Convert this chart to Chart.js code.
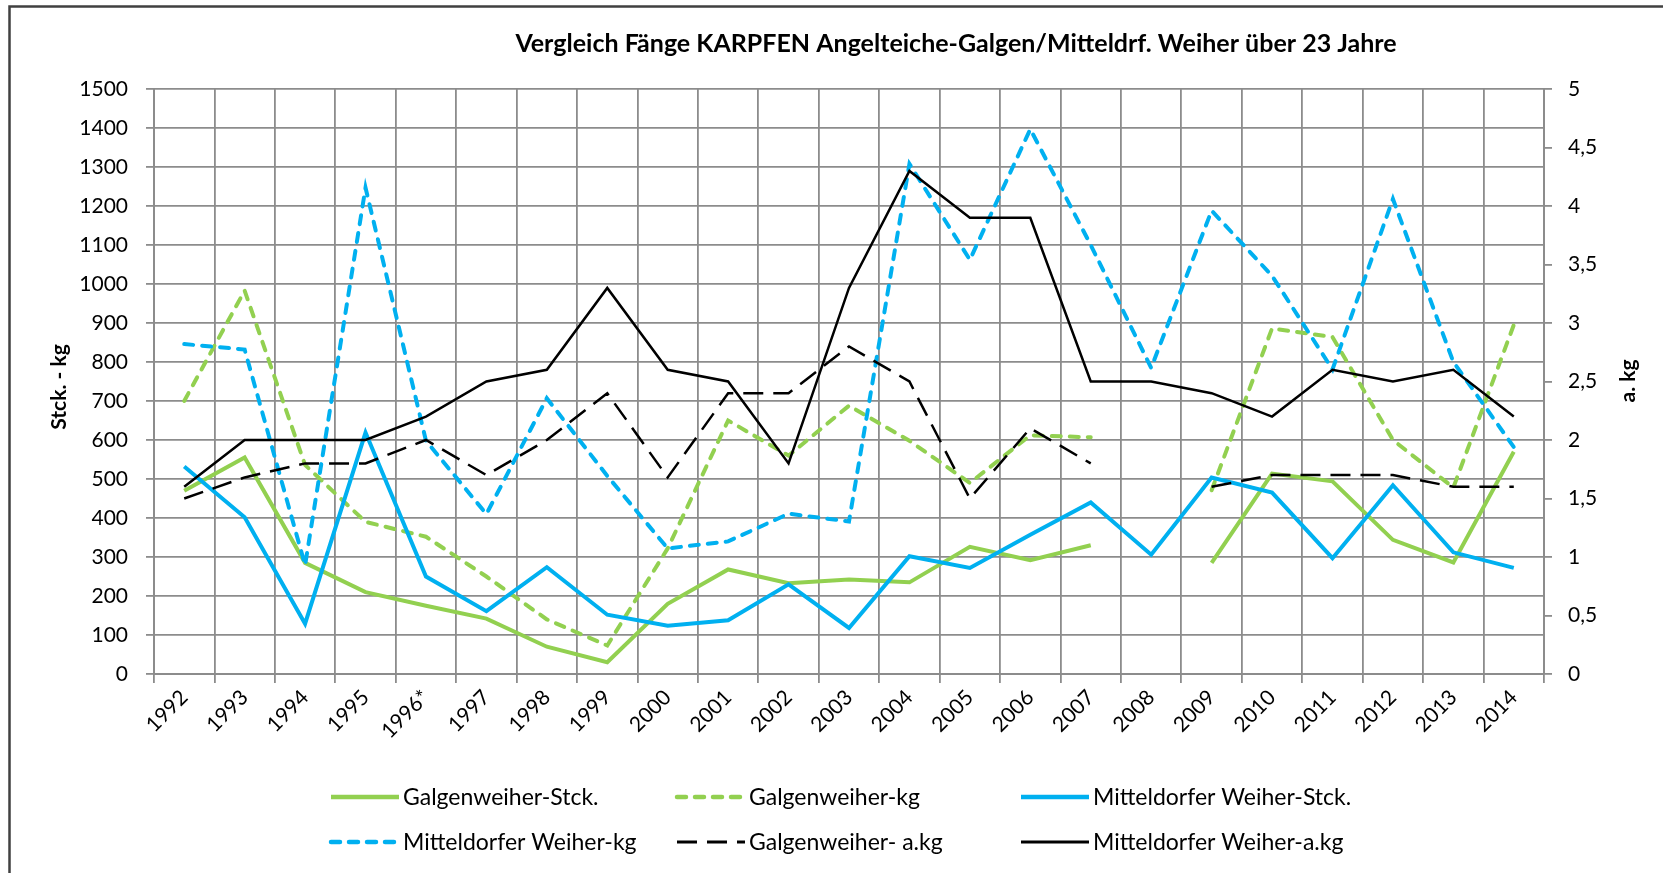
<!DOCTYPE html>
<html><head><meta charset="utf-8">
<script src="https://cdn.jsdelivr.net/npm/chart.js@4.4.1/dist/chart.umd.min.js"></script>
<style>html,body{margin:0;padding:0;background:#fff;overflow:hidden}#wrap{width:1663px;height:873px;position:relative}canvas{display:block}</style>
</head><body><div id="wrap"><canvas id="c" width="1663" height="873"></canvas></div>
<script>
const years = ['1992','1993','1994','1995','1996*','1997','1998','1999','2000','2001','2002','2003','2004','2005','2006','2007','2008','2009','2010','2011','2012','2013','2014'];
const galgenStck   = [470,555,285,210,175,142,70,30,180,268,233,242,235,326,292,330,null,285,514,494,344,286,570];
const galgenKg     = [700,983,536,390,352,250,140,73,322,650,560,688,598,490,612,607,null,471,886,864,600,478,895];
const mittelStck   = [532,402,129,619,250,161,274,152,124,138,230,118,302,272,357,440,306,504,465,297,484,312,272];
const mittelKg     = [846,832,279,1247,598,410,707,508,322,340,411,391,1308,1062,1397,1100,785,1188,1021,781,1218,800,582];
const galgenAkg    = [1.5,1.68,1.8,1.8,2.0,1.7,2.0,2.4,1.68,2.4,2.4,2.8,2.5,1.5,2.1,1.8,null,1.6,1.7,1.7,1.7,1.6,1.6];
const mittelAkg    = [1.6,2.0,2.0,2.0,2.2,2.5,2.6,3.3,2.6,2.5,1.8,3.3,4.3,3.9,3.9,2.5,2.5,2.4,2.2,2.6,2.5,2.6,2.2];
const leftTicks = {min:0, max:1500, step:100};
const rightTicks = {min:0, max:5, step:0.5};

const GREEN = '#92D050', BLUE = '#00B0F0', BLACK = '#000000';
const FONT = 'Lato';
const GRID = '#8c8c8c';

const datasets = [
  {label:'Galgenweiher-Stck.', data:galgenStck, borderColor:GREEN, borderWidth:4, yAxisID:'y', order:6},
  {label:'Galgenweiher-kg', data:galgenKg, borderColor:GREEN, borderWidth:4, borderDash:[9,9], borderCapStyle:'round', yAxisID:'y', order:5},
  {label:'Mitteldorfer Weiher-Stck.', data:mittelStck, borderColor:BLUE, borderWidth:4, yAxisID:'y', order:4},
  {label:'Mitteldorfer Weiher-kg', data:mittelKg, borderColor:BLUE, borderWidth:4, borderDash:[9,9], borderCapStyle:'round', yAxisID:'y', order:3},
  {label:'Galgenweiher- a.kg', data:galgenAkg, borderColor:BLACK, borderWidth:2.5, borderDash:[20,10], yAxisID:'y1', order:2},
  {label:'Mitteldorfer Weiher-a.kg', data:mittelAkg, borderColor:BLACK, borderWidth:2.5, yAxisID:'y1', order:1}
];
datasets.forEach(d=>{d.pointRadius=0;d.pointHoverRadius=0;d.tension=0;d.fill=false;d.spanGaps=false;d.backgroundColor=d.borderColor;});

const decor = {
  id:'decor',
  afterDraw(chart){
    const ctx = chart.ctx;
    ctx.save();
    // frame
    ctx.strokeStyle = '#404040'; ctx.lineWidth = 2.5;
    ctx.beginPath(); ctx.moveTo(9.5, 880); ctx.lineTo(9.5, 6.5); ctx.lineTo(1670, 6.5); ctx.stroke();
    // title
    ctx.fillStyle = '#000';
    ctx.font = 'bold 25px ' + FONT;
    ctx.textAlign = 'center'; ctx.textBaseline = 'middle';
    ctx.fillText('Vergleich Fänge KARPFEN Angelteiche-Galgen/Mitteldrf. Weiher über 23 Jahre', 956, 44);
    // axis titles
    ctx.font = 'bold 21px ' + FONT;
    ctx.save(); ctx.translate(59, 387); ctx.rotate(-Math.PI/2); ctx.fillText('Stck. - kg', 0, 0); ctx.restore();
    ctx.save(); ctx.translate(1628, 381); ctx.rotate(-Math.PI/2); ctx.fillText('a. kg', 0, 0); ctx.restore();
    // legend
    const cols = [331, 677, 1021], rows = [797, 842];
    ctx.font = '23px ' + FONT; ctx.textAlign = 'left';
    chart.data.datasets.forEach((d, i) => {
      const x = cols[i % 3], y = rows[Math.floor(i / 3)];
      ctx.strokeStyle = d.borderColor; ctx.lineWidth = d.borderWidth + 0.5;
      ctx.setLineDash(d.borderDash || []); ctx.lineCap = d.borderCapStyle || 'butt';
      ctx.beginPath(); ctx.moveTo(x, y); ctx.lineTo(x + 68, y); ctx.stroke();
      ctx.setLineDash([]); ctx.lineCap = 'butt';
      ctx.fillStyle = '#000';
      ctx.fillText(d.label, x + 72, y + 1);
    });
    ctx.restore();
  }
};

new Chart(document.getElementById('c'), {
  type:'line',
  data:{labels:years, datasets},
  options:{
    responsive:false, animation:false, devicePixelRatio:1,
    layout:{padding:{top:89, left:0, right:0, bottom:0}},
    plugins:{legend:{display:false}, title:{display:false}, tooltip:{enabled:false}},
    scales:{
      x:{
        offset:true,
        grid:{offset:true, color:GRID, lineWidth:1.8, tickLength:9, drawTicks:true},
        border:{color:GRID, width:2},
        ticks:{font:{family:FONT, size:21}, color:'#000', maxRotation:45, minRotation:45, autoSkip:false, padding:2},
        afterFit(s){ s.height = 873 - 674; }
      },
      y:{
        position:'left', min:leftTicks.min, max:leftTicks.max,
        grid:{color:GRID, lineWidth:1.8, tickLength:8},
        border:{color:GRID, width:2},
        ticks:{stepSize:leftTicks.step, font:{family:FONT, size:21}, color:'#000', padding:18,
          callback:v => String(v)},
        afterFit(s){ s.width = 154; }
      },
      y1:{
        position:'right', min:rightTicks.min, max:rightTicks.max,
        grid:{drawOnChartArea:false, color:GRID, lineWidth:1.8, tickLength:8},
        border:{color:GRID, width:2},
        ticks:{stepSize:rightTicks.step, font:{family:FONT, size:21}, color:'#000', padding:16,
          callback:v => String(v).replace('.', ',')},
        afterFit(s){ s.width = 1663 - 1544; }
      }
    }
  },
  plugins:[decor]
});
</script></body></html>
